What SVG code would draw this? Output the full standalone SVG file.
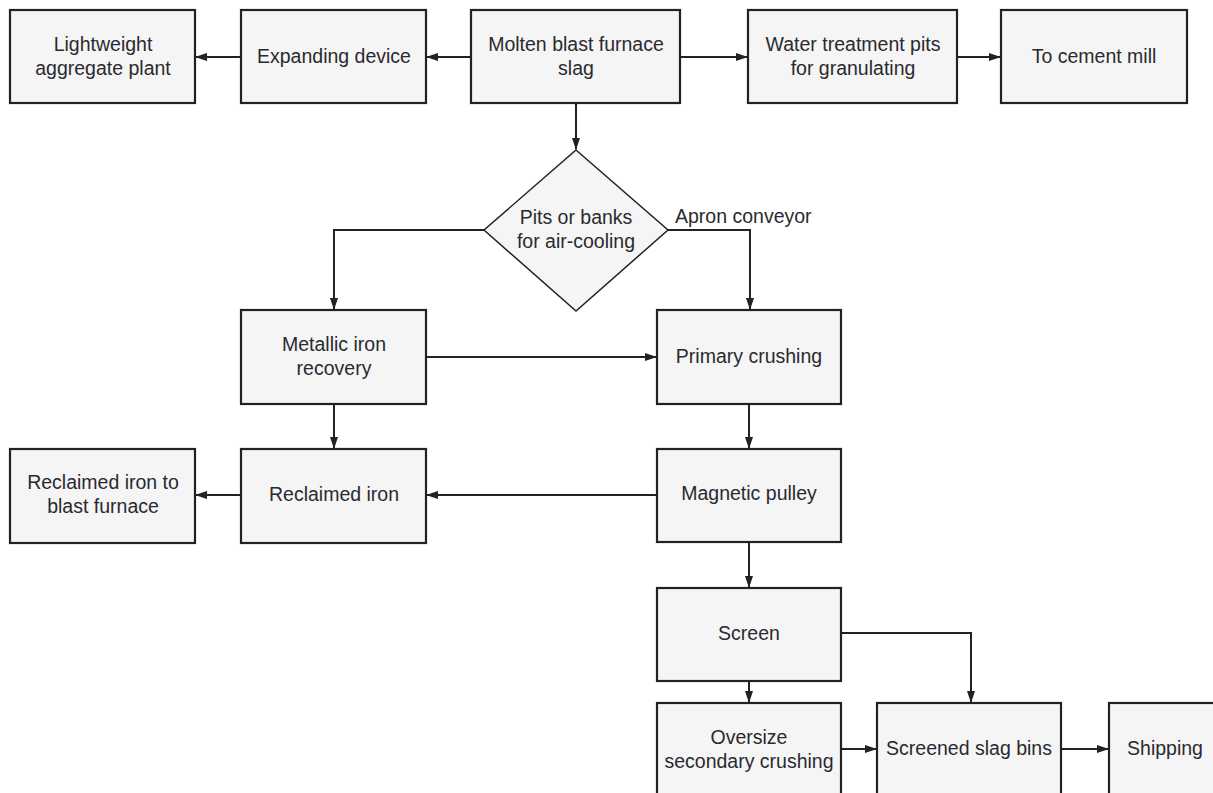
<svg xmlns="http://www.w3.org/2000/svg" width="1213" height="793" viewBox="0 0 1213 793">
<defs>
<marker id="arr" markerUnits="userSpaceOnUse" markerWidth="12" markerHeight="10" refX="11" refY="4" orient="auto">
<path d="M0,0 L12,4 L0,8 Z" fill="#222"/>
</marker>
<style>
.box{fill:#f5f5f5;stroke:#222;stroke-width:2.2}
.t{font-family:"Liberation Sans",Arial,sans-serif;font-size:19.5px;fill:#2a2a30;text-anchor:middle}
.lab{font-family:"Liberation Sans",Arial,sans-serif;font-size:19.5px;fill:#2a2a30}
.c{fill:none;stroke:#222;stroke-width:2;marker-end:url(#arr)}
</style>
</defs>
<rect width="1213" height="793" fill="#fff"/>
<g id="connectors">
<path class="c" d="M471,57 H427"/>
<path class="c" d="M241,57 H196"/>
<path class="c" d="M680,57 H747"/>
<path class="c" d="M957,57 H1000"/>
<path class="c" d="M576,103 V149"/>
<path class="c" d="M484,230 H334 V309"/>
<path class="c" d="M668,230 H750 V309"/>
<path class="c" d="M426,357 H656"/>
<path class="c" d="M334,404 V448"/>
<path class="c" d="M749,404 V448"/>
<path class="c" d="M657,495 H427"/>
<path class="c" d="M241,495 H196"/>
<path class="c" d="M749,542 V587"/>
<path class="c" d="M749,681 V702"/>
<path class="c" d="M841,633 H971 V702"/>
<path class="c" d="M841,749 H876"/>
<path class="c" d="M1061,749 H1108"/>
<text class="lab" x="675" y="223">Apron conveyor</text>
</g>
<g id="n-lightweight"><rect class="box" x="10" y="10" width="185" height="93"/><text class="t" x="103" y="51">Lightweight</text><text class="t" x="103" y="75">aggregate plant</text></g>
<g id="n-expanding"><rect class="box" x="241" y="10" width="185" height="93"/><text class="t" x="334" y="63">Expanding device</text></g>
<g id="n-molten"><rect class="box" x="471" y="10" width="209" height="93"/><text class="t" x="576" y="51">Molten blast furnace</text><text class="t" x="576" y="75">slag</text></g>
<g id="n-water"><rect class="box" x="748" y="10" width="209" height="93"/><text class="t" x="853" y="51">Water treatment pits</text><text class="t" x="853" y="75">for granulating</text></g>
<g id="n-cement"><rect class="box" x="1001" y="10" width="186" height="93"/><text class="t" x="1094" y="63">To cement mill</text></g>
<g id="n-pits"><polygon class="box" points="576,150 668,230 576,311 484,230" style="stroke-width:1.5"/><text class="t" x="576" y="224">Pits or banks</text><text class="t" x="576" y="248">for air-cooling</text></g>
<g id="n-metallic"><rect class="box" x="241" y="310" width="185" height="94"/><text class="t" x="334" y="351">Metallic iron</text><text class="t" x="334" y="375">recovery</text></g>
<g id="n-primary"><rect class="box" x="657" y="310" width="184" height="94"/><text class="t" x="749" y="363">Primary crushing</text></g>
<g id="n-reclaimed-bf"><rect class="box" x="10" y="449" width="185" height="94"/><text class="t" x="103" y="489">Reclaimed iron to</text><text class="t" x="103" y="513">blast furnace</text></g>
<g id="n-reclaimed"><rect class="box" x="241" y="449" width="185" height="94"/><text class="t" x="334" y="501">Reclaimed iron</text></g>
<g id="n-magnetic"><rect class="box" x="657" y="449" width="184" height="93"/><text class="t" x="749" y="500">Magnetic pulley</text></g>
<g id="n-screen"><rect class="box" x="657" y="588" width="184" height="93"/><text class="t" x="749" y="640">Screen</text></g>
<g id="n-oversize"><rect class="box" x="657" y="703" width="184" height="100"/><text class="t" x="749" y="744">Oversize</text><text class="t" x="749" y="768">secondary crushing</text></g>
<g id="n-bins"><rect class="box" x="877" y="703" width="184" height="100"/><text class="t" x="969" y="755">Screened slag bins</text></g>
<g id="n-shipping"><rect class="box" x="1109" y="703" width="120" height="100"/><text class="t" x="1165" y="755">Shipping</text></g>
</svg>
